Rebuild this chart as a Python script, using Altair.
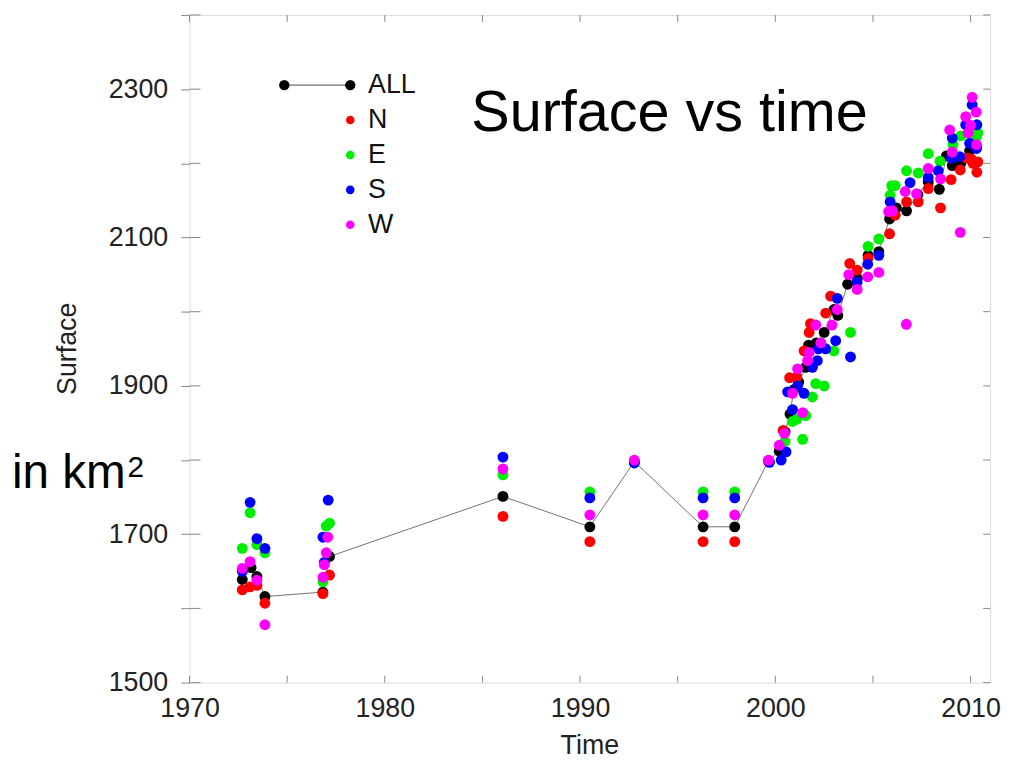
import altair as alt
import pandas as pd

# ---------------- data ----------------
series_names = ["ALL", "N", "E", "S", "W"]
series_colors = ["#000000", "#ff0000", "#00ee00", "#0000ff", "#ff00ff"]

all_year = [1972.7, 1973.15, 1973.45, 1973.86, 1976.83, 1977.17, 1986.05, 1990.5, 1992.78, 1996.3,
            1997.92, 1999.65, 2000.2, 2000.5, 2000.75, 2000.95, 2001.2, 2001.55, 2001.7, 2002.1,
            2002.5, 2003.0, 2003.2, 2003.7, 2004.2, 2004.75, 2005.3, 2005.85, 2006.2, 2006.72,
            2007.3, 2007.83, 2008.4, 2008.76, 2009.06, 2009.5, 2009.95, 2010.3]
all_val = [1639, 1655, 1643, 1616, 1622, 1670, 1751, 1710, 1798, 1710,
           1710, 1799, 1812, 1838, 1862, 1895, 1905, 1925, 1955, 1958,
           1972, 2003, 1995, 2037, 2045, 2076, 2081, 2125, 2140, 2136,
           2158, 2175, 2165, 2210, 2197, 2200, 2217, 2222]

n_year = [1972.7, 1973.1, 1973.45, 1973.86, 1976.83, 1977.17, 1986.05, 1990.5, 1996.3, 1997.92,
          1999.65, 2000.4, 2000.73, 2001.1, 2001.47, 2001.73, 2001.8, 2002.58, 2002.83, 2003.81,
          2004.19, 2004.75, 2005.85, 2006.14, 2006.72, 2007.32, 2007.83, 2008.46, 2009.0, 2009.47,
          2009.8, 2010.03, 2010.12, 2010.37, 2010.32]
n_val = [1625, 1629, 1631, 1607, 1620, 1645, 1724, 1690, 1690, 1690,
         1798, 1840, 1911, 1912, 1947, 1972, 1984, 1998, 2021, 2065,
         2056, 2072, 2105, 2130, 2148, 2148, 2166, 2140, 2178, 2191,
         2207, 2206, 2200, 2202, 2188]

e_year = [1972.7, 1973.1, 1973.45, 1973.86, 1976.83, 1977.0, 1977.17, 1986.05, 1990.5, 1996.3,
          1997.92, 2000.5, 2000.88, 2001.1, 2001.4, 2001.56, 2001.9, 2002.07, 2002.5, 2003.0,
          2003.85, 2004.75, 2005.3, 2005.88, 2005.96, 2006.14, 2006.72, 2007.32, 2007.83, 2008.43,
          2009.1, 2009.5, 2010.3, 2010.37]
e_val = [1681, 1729, 1686, 1675, 1636, 1711, 1715, 1780, 1757, 1757,
         1757, 1825, 1852, 1855, 1828, 1860, 1885, 1903, 1900, 1947,
         1972, 2088, 2098, 2157, 2170, 2170, 2190, 2187, 2213, 2203,
         2225, 2237, 2236, 2241]

s_year = [1972.7, 1973.1, 1973.45, 1973.86, 1976.83, 1976.9, 1977.1, 1986.05, 1990.5, 1992.78,
          1996.3, 1997.92, 1999.7, 2000.3, 2000.55, 2000.63, 2000.88, 2001.14, 2001.47, 2001.9,
          2002.15, 2002.2, 2002.58, 2003.09, 2003.17, 2003.85, 2004.19, 2004.73, 2005.3, 2005.88,
          2006.9, 2007.83, 2008.34, 2009.0, 2009.06, 2009.44, 2009.75, 2009.95, 2010.08, 2010.32,
          2010.3]
s_val = [1650, 1743, 1694, 1681, 1696, 1662, 1746, 1804, 1749, 1796,
         1749, 1749, 1797, 1800, 1811, 1892, 1868, 1900, 1890, 1925,
         1934, 1950, 1950, 1961, 2018, 1939, 2040, 2064, 2076, 2148,
         2174, 2181, 2190, 2207, 2234, 2209, 2252, 2227, 2279, 2252,
         2220]

w_year = [1972.7, 1973.1, 1973.45, 1973.86, 1976.83, 1976.9, 1977.0, 1977.08, 1986.05, 1990.5,
          1992.78, 1996.3, 1997.92, 1999.65, 2000.2, 2000.46, 2000.88, 2001.14, 2001.4, 2001.65,
          2001.73, 2002.07, 2002.33, 2002.9, 2003.17, 2003.76, 2004.19, 2004.73, 2005.3, 2005.8,
          2006.0, 2006.65, 2006.71, 2007.23, 2007.83, 2008.46, 2008.93, 2009.06, 2009.47, 2009.75,
          2009.87, 2010.0, 2010.08, 2010.29, 2010.3]
w_val = [1654, 1663, 1638, 1578, 1642, 1659, 1675, 1696, 1788, 1726,
         1800, 1726, 1726, 1800, 1820, 1836, 1890, 1923, 1864, 1934,
         1945, 1982, 1958, 1982, 2003, 2050, 2030, 2047, 2053, 2135,
         2136, 2162, 1983, 2159, 2193, 2179, 2245, 2215, 2107, 2263,
         2241, 2251, 2289, 2269, 2225]

x_ticks = [1970, 1975, 1980, 1985, 1990, 1995, 2000, 2005, 2010]
x_labels = [1970, 1980, 1990, 2000, 2010]
y_ticks = [1500, 1600, 1700, 1800, 1900, 2000, 2100, 2200, 2300, 2400]

title_text = "Surface vs time"
x_title = "Time"
y_title = "Surface"
unit_text = "in km"
unit_sup = "2"

# ---------------- layout ----------------
W, H = 807, 673
FONT = "Liberation Sans"
FRAME = "#888888"
LINE_GRAY = "#707070"

xscale = alt.Scale(domain=[1970, 2011], nice=False, zero=False)
yscale = alt.Scale(domain=[1500, 2400], nice=False, zero=False)

xaxis = alt.Axis(values=x_labels, format="d", tickSize=0, domain=False, grid=False,
                 labelFontSize=27, labelFont=FONT, labelColor="#222222",
                 labelPadding=13, labelFlush=False, title=None)
yaxis = alt.Axis(values=y_ticks, format="d", tickSize=9, tickColor=FRAME, domain=False,
                 grid=False, labelFontSize=27, labelFont=FONT, labelColor="#222222",
                 labelPadding=13,
                 labelExpr="datum.value % 200 == 100 ? datum.label : ''", title=None)


def X():
    return alt.X("year:Q", scale=xscale, axis=xaxis)


def Y():
    return alt.Y("value:Q", scale=yscale, axis=yaxis)


def frame(years, vals):
    return pd.DataFrame({"year": years, "value": vals})


layers = []

# inward ticks (bottom, top, left, right)
xt = pd.DataFrame({"year": x_ticks})
yt = pd.DataFrame({"value": y_ticks})
tick_style = dict(color=FRAME, strokeWidth=1)
layers.append(alt.Chart(xt).mark_rule(**tick_style).encode(x=X(), y=alt.value(H), y2=alt.value(H - 7)))
layers.append(alt.Chart(xt).mark_rule(**tick_style).encode(x=X(), y=alt.value(0), y2=alt.value(7)))
layers.append(alt.Chart(yt).mark_rule(**tick_style).encode(y=Y(), x=alt.value(0), x2=alt.value(11)))
layers.append(alt.Chart(yt).mark_rule(**tick_style).encode(y=Y(), x=alt.value(W), x2=alt.value(W - 7)))

# ALL series: line + black points
all_df = frame(all_year, all_val)
layers.append(alt.Chart(all_df).mark_line(color=LINE_GRAY, strokeWidth=1).encode(x=X(), y=Y()))
layers.append(alt.Chart(all_df).mark_circle(color=series_colors[0], size=120, opacity=1).encode(x=X(), y=Y()))

for yrs, vals, col in [(n_year, n_val, series_colors[1]),
                       (e_year, e_val, series_colors[2]),
                       (s_year, s_val, series_colors[3]),
                       (w_year, w_val, series_colors[4])]:
    layers.append(alt.Chart(frame(yrs, vals)).mark_circle(color=col, size=120, opacity=1)
                  .encode(x=X(), y=Y()))

# ---------------- legend (drawn manually, gnuplot style) ----------------
leg_x0, leg_x1, leg_tx = 95.5, 162, 180
leg_y0, leg_dy = 70.7, 35.2
one = pd.DataFrame({"k": [0]})
layers.append(alt.Chart(one).mark_rule(color=LINE_GRAY, strokeWidth=1.2).encode(
    x=alt.value(leg_x0), x2=alt.value(leg_x1), y=alt.value(leg_y0)))
for xx in (leg_x0, leg_x1):
    layers.append(alt.Chart(one).mark_circle(color=series_colors[0], size=110, opacity=1).encode(
        x=alt.value(xx), y=alt.value(leg_y0)))
for i, (name, col) in enumerate(zip(series_names, series_colors)):
    yy = leg_y0 + i * leg_dy
    if i > 0:
        layers.append(alt.Chart(one).mark_circle(color=col, size=75, opacity=1).encode(
            x=alt.value(leg_x1), y=alt.value(yy)))
    layers.append(alt.Chart(pd.DataFrame({"t": [name]})).mark_text(
        font=FONT, fontSize=27, align="left", baseline="middle", color="#111111").encode(
        x=alt.value(leg_tx), y=alt.value(yy), text="t:N"))

# ---------------- texts ----------------
def label(txt, x, y, size, **kw):
    return alt.Chart(pd.DataFrame({"t": [txt]})).mark_text(font=FONT, fontSize=size, **kw).encode(
        x=alt.value(x), y=alt.value(y), text="t:N")

layers.append(label(title_text, 284, 117, 58, align="left", baseline="alphabetic", color="#000000"))
layers.append(label(x_title, W / 2, 737, 27, align="center", baseline="middle", color="#222222"))
layers.append(label(y_title, -122.5, H / 2, 27, align="center", baseline="middle", angle=270,
                    color="#222222"))
layers.append(label(unit_text, -179, 476.5, 48, align="left", baseline="alphabetic", color="#000000"))
layers.append(label(unit_sup, -62.5, 466, 30, align="left", baseline="alphabetic", color="#000000"))

chart = alt.layer(*layers).properties(
    width=W, height=H,
    padding={"left": 183, "top": 4, "right": 16, "bottom": 76},
    autosize=alt.AutoSizeParams(type="none"),
).configure_view(stroke=FRAME, strokeWidth=1).configure(background="white")

chart.save("out.html", embed_options={"renderer": "svg", "actions": False})
